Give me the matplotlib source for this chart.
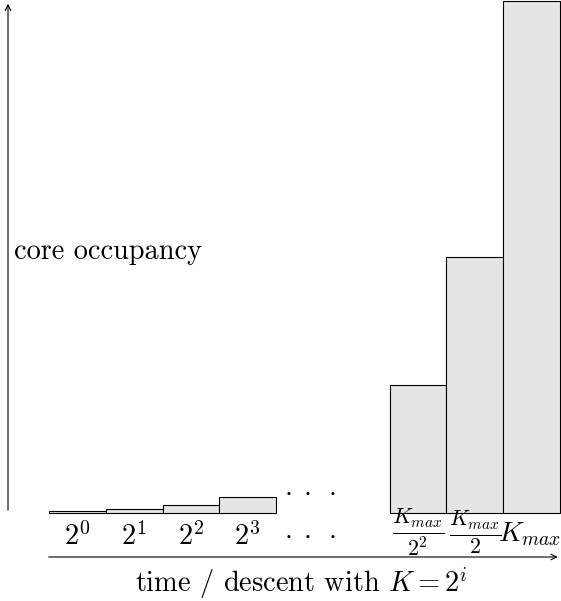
import matplotlib
matplotlib.use("Agg")
import matplotlib.pyplot as plt

plt.rcParams['font.family'] = 'serif'
plt.rcParams['font.serif'] = ['cmr10', 'DejaVu Serif']
plt.rcParams['mathtext.fontset'] = 'cm'
plt.rcParams['axes.formatter.use_mathtext'] = True

# datos (unidades arbitrarias)
pos_chicas = [0, 1, 2, 3]
alto_chicas = [2, 4, 8, 16]
etiq_chicas = [r'$2^0$', r'$2^1$', r'$2^2$', r'$2^3$']

pos_grandes = [6, 7, 8]
alto_grandes = [128, 256, 512]
etiq_grandes = [r'$\frac{K_{max}}{2^2}$', r'$\frac{K_{max}}{2}$', r'$K_{max}$']
y_etiq_grandes = [-19.5, -19.5, -21]
tam_etiq_grandes = [22.5, 22.5, 20.0]

relleno = '#e5e5e5'
tam = 20.4

fig = plt.figure(figsize=(5.61, 6.01), dpi=100)
ax = fig.add_axes([0, 0, 1, 1])
ax.set_xlim(-49 / 56.78, 512 / 56.78)
ax.set_ylim(-88, 513)
ax.axis('off')

ax.bar(pos_chicas, alto_chicas, width=1, align='edge', color=relleno, edgecolor='black', linewidth=0.8)
ax.bar(pos_grandes, alto_grandes, width=1, align='edge', color=relleno, edgecolor='black', linewidth=0.8)

# etiquetas debajo de cada barra
for p, t in zip(pos_chicas, etiq_chicas):
    ax.text(p + 0.5, -24, t, ha='center', va='center', fontsize=tam)
for i, (p, t, yy, fs) in enumerate(zip(pos_grandes, etiq_grandes, y_etiq_grandes, tam_etiq_grandes)):
    dx = 0.46 if i == len(pos_grandes) - 1 else 0.5  # la ultima un poco a la izquierda para que no se corte
    ax.text(p + dx, yy, t, ha='center', va='center', fontsize=fs)

# puntos suspensivos
ax.text(4.6, 21, r'$\cdot\;\cdot\;\cdot$', ha='center', va='center', fontsize=tam)
ax.text(4.6, -22, r'$\cdot\;\cdot\;\cdot$', ha='center', va='center', fontsize=tam)

# ejes con flecha
ax.annotate('', xy=(-0.722, 512), xytext=(-0.722, 0),
            arrowprops=dict(arrowstyle='->', lw=0.8, color='black'))
ax.annotate('', xy=(9.01, -44), xytext=(-0.053, -44),
            arrowprops=dict(arrowstyle='->', lw=0.8, color='black'))

ax.text(-0.616, 261, 'core occupancy', ha='left', va='center', fontsize=tam)
ax.text(4.45, -79, r'time / descent with $K=2^i$', ha='center', va='baseline', fontsize=tam)

plt.savefig('out.png', dpi=100)
